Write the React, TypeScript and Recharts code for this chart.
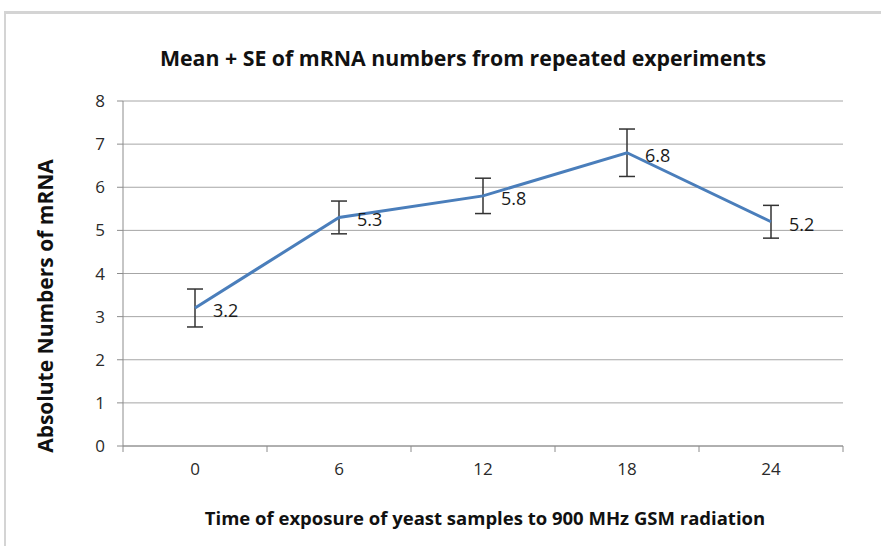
import React from "react";
import { LineChart, Line, XAxis, YAxis, CartesianGrid, ErrorBar } from "recharts";

const times = ["0", "6", "12", "18", "24"];
const means = [3.2, 5.3, 5.8, 6.8, 5.2];
const ses = [0.44, 0.38, 0.41, 0.55, 0.38];
const yTicks = [0, 1, 2, 3, 4, 5, 6, 7, 8];

const data = times.map((t, i) => ({ time: t, mean: means[i], se: ses[i] }));

const FONT = "'Open Sans', sans-serif";
const HALF_BAND = 72;

const XTick = (props: any) => {
  const { x, y, payload, index } = props;
  const isLast = index === times.length - 1;
  return (
    <g>
      <line x1={x - HALF_BAND} y1={y} x2={x - HALF_BAND} y2={y + 6} stroke="#8c8c8c" strokeWidth={1} />
      {isLast && <line x1={x + HALF_BAND} y1={y} x2={x + HALF_BAND} y2={y + 6} stroke="#8c8c8c" strokeWidth={1} />}
      <text x={x} y={y + 22} textAnchor="middle" dominantBaseline="central" fontFamily={FONT} fontSize={17} fill="#2a2a2a">
        {payload.value}
      </text>
    </g>
  );
};

const renderLabel = (props: any) => {
  const { x, y, value } = props;
  return (
    <text x={x + 18} y={y + 2} dominantBaseline="central" fontFamily={FONT} fontSize={18} fill="#1a1a1a">
      {value}
    </text>
  );
};

const labelStyle: React.CSSProperties = {
  position: "absolute",
  fontFamily: FONT,
  fontWeight: 700,
  color: "#111",
  whiteSpace: "nowrap",
  textAlign: "center",
};

export default function App() {
  return (
    <div style={{ position: "absolute", left: 0, top: 0, width: 881, height: 546, background: "#fff", overflow: "hidden" }}>
      <div
        style={{
          position: "absolute",
          left: 4,
          top: 11,
          width: 900,
          height: 600,
          borderTop: "3px solid #d4d4d4",
          borderLeft: "2px solid #d4d4d4",
        }}
      />
      <div style={{ position: "absolute", left: 0, top: 0 }}>
        <LineChart width={881} height={546} data={data} margin={{ top: 101, right: 38, bottom: 70, left: 63 }}>
          <CartesianGrid vertical={false} stroke="#a6a6a6" strokeWidth={1} />
          <XAxis
            dataKey="time"
            height={30}
            padding={{ left: HALF_BAND, right: HALF_BAND }}
            tick={<XTick />}
            tickLine={false}
            tickSize={0}
            tickMargin={0}
            axisLine={{ stroke: "#8c8c8c" }}
            interval={0}
          />
          <YAxis
            width={60}
            domain={[0, 8]}
            ticks={yTicks}
            interval={0}
            tickSize={6}
            tickMargin={12}
            tickLine={{ stroke: "#8c8c8c" }}
            axisLine={{ stroke: "#8c8c8c" }}
            tick={{ fontFamily: FONT, fontSize: 17, fill: "#2a2a2a" }}
          />
          <Line
            type="linear"
            dataKey="mean"
            stroke="#4a7ebb"
            strokeWidth={3}
            dot={false}
            activeDot={false}
            isAnimationActive={false}
            label={renderLabel}
          >
            <ErrorBar dataKey="se" direction="y" width={8} stroke="#333" strokeWidth={1.5} />
          </Line>
        </LineChart>
      </div>
      <div style={{ ...labelStyle, left: 63, width: 800, top: 44, fontSize: 21.3, lineHeight: "28px" }}>
        Mean + SE of mRNA numbers from repeated experiments
      </div>
      <div style={{ ...labelStyle, left: 85, width: 800, top: 505, fontSize: 18.5, lineHeight: "26px" }}>
        Time of exposure of yeast samples to 900 MHz GSM radiation
      </div>
      <div
        style={{
          ...labelStyle,
          left: 45 - 200,
          top: 306 - 14,
          width: 400,
          fontSize: 21,
          lineHeight: "28px",
          transform: "rotate(-90deg)",
          transformOrigin: "200px 14px",
        }}
      >
        Absolute Numbers of mRNA
      </div>
    </div>
  );
}
